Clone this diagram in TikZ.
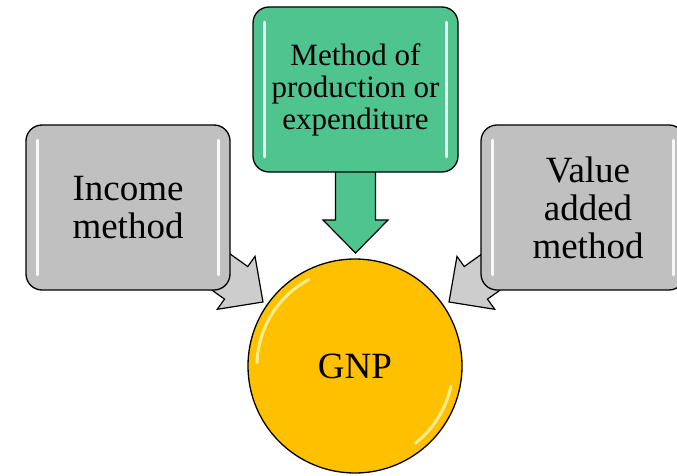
\documentclass[tikz,border=0pt]{standalone}
\usepackage{fontspec}
\setmainfont{Liberation Serif}
\pgfdeclarelayer{background}
\pgfsetlayers{background,main}
\definecolor{boxgray}{RGB}{192,192,192}
\definecolor{arrgray}{RGB}{205,205,205}
\definecolor{boxgreen}{RGB}{80,196,143}
\definecolor{gold}{RGB}{255,192,0}
\newcommand\calloutarrow[4]{%
  \begin{scope}[shift={(#1)},rotate=#2]
    \draw[arrowsty,fill=#4] (0,0) -- (-33,32.5) -- (-33,20) -- (-#3,20)
      -- (-#3,-20) -- (-33,-20) -- (-33,-32.5) -- cycle;
  \end{scope}}
\begin{document}
\begin{tikzpicture}[x=1pt,y=-1pt,
  calloutbox/.style={draw=black,line width=1.3pt,rounded corners=16pt,
    minimum width=204pt,minimum height=165pt,inner sep=0pt,align=center,
    font=\fontsize{37}{38}\selectfont},
  arrowsty/.style={draw=black,line width=1.2pt,line join=miter},
  stripe/.style={white,line width=3.5pt,line cap=round,opacity=0.9},
  gloss/.style={yellow!25!white,line width=3pt,line cap=round,opacity=0.75}]
\useasboundingbox (0,0) rectangle (677,476);

% nodes
\node[calloutbox,fill=boxgray] (L) at (128,207.5) {Income\\method};
\node[calloutbox,fill=boxgray] (R) at (583,207.5) {\hspace*{10pt}Value\\\hspace*{10pt}added\\\hspace*{10pt}method};
\node[calloutbox,fill=boxgreen,minimum width=205pt,
  font=\fontsize{31}{32}\selectfont] (T) at (355.5,89.5) {Method of\\production or\\expenditure};
\node[circle,draw=black,line width=1.3pt,fill=gold,minimum size=214pt,inner sep=0pt,
  font=\fontsize{37}{38}\selectfont] (G) at (355,366) {GNP};

% stripes on boxes
\foreach \b in {L,R,T}{
  \draw[stripe] ([xshift=12pt,yshift=-16pt]\b.north west) -- ([xshift=12pt,yshift=16pt]\b.south west);
  \draw[stripe] ([xshift=-12pt,yshift=-16pt]\b.north east) -- ([xshift=-12pt,yshift=16pt]\b.south east);
}
% gloss on circle
\begin{scope}[shift={(G.center)},y=1pt]
  \draw[gloss] (118:98) arc (118:178:98);
  \draw[gloss] (-12:98) arc (-12:-52:98);
\end{scope}

% connectors (arrow shapes) behind the boxes
\coordinate (tipL) at (263,302);
\coordinate (tipR) at (449,302);
\coordinate (tipT) at (355.5,253);
\begin{pgfonlayer}{background}
  \calloutarrow{tipL}{-35.5}{90}{arrgray}
  \calloutarrow{tipR}{-144.5}{90}{arrgray}
  \calloutarrow{tipT}{-90}{100}{boxgreen}
\end{pgfonlayer}
\end{tikzpicture}
\end{document}
